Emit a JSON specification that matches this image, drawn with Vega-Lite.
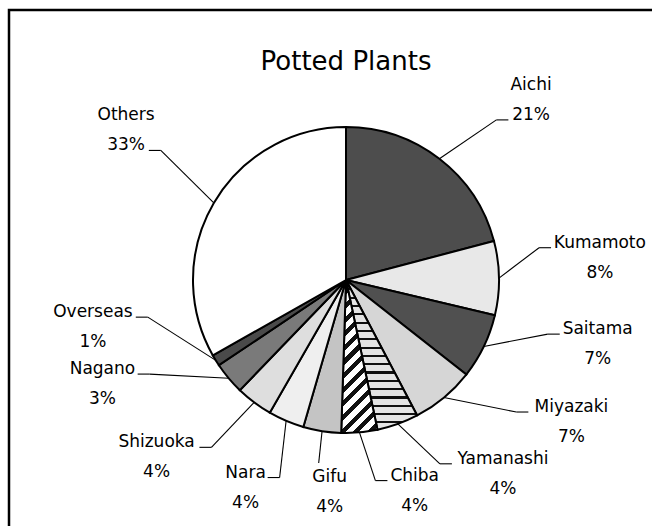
{
  "$schema": "https://vega.github.io/schema/vega-lite/v6.json",
  "width": 674,
  "height": 540,
  "padding": {"left": 9, "top": 10, "right": 0, "bottom": 0},
  "background": "white",
  "title": {"text": "Potted Plants", "font": "DejaVu Sans", "fontSize": 26, "fontWeight": "normal", "color": "#000", "offset": -65},
  "config": {"view": {"stroke": "#000", "strokeWidth": 2.5}},
  "data": {"values": [
    {"name": "Aichi", "value": 20.9},
    {"name": "Kumamoto", "value": 7.8},
    {"name": "Saitama", "value": 6.9},
    {"name": "Miyazaki", "value": 6.7},
    {"name": "Yamanashi", "value": 4.4},
    {"name": "Chiba", "value": 3.8},
    {"name": "Gifu", "value": 4.0},
    {"name": "Nara", "value": 3.8},
    {"name": "Shizuoka", "value": 3.9},
    {"name": "Nagano", "value": 3.4},
    {"name": "Overseas", "value": 1.2},
    {"name": "Others", "value": 33.2}
  ]},
  "transform": [
    {"window": [{"op": "sum", "field": "value", "as": "cum"}], "frame": [null, 0]},
    {"calculate": "datum.cum - datum.value", "as": "start"},
    {"calculate": "(datum.cum - datum.value / 2) * 3.6", "as": "m"},
    {"calculate": "datum.m < 30 ? datum.m * 40 / 30 : datum.m < 89.3 ? 40 + (datum.m - 30) * 45 / 59.3 : datum.m < 140 ? 85 + (datum.m - 89.3) * 37 / 50.7 : datum.m < 160.2 ? 122 + (datum.m - 140) * 19 / 20.2 : datum.m < 175 ? 141 + (datum.m - 160.2) * 21 / 14.8 : datum.m < 190 ? 162 + (datum.m - 175) * 24 / 15 : datum.m < 240 ? 186 + (datum.m - 190) * 76 / 50 : datum.m < 300 ? 262 + (datum.m - 240) * 42 / 60 : 304 + (datum.m - 300) * 56 / 60", "as": "phi"},
    {"calculate": "datum.phi * PI / 180", "as": "pr"},
    {"calculate": "1 / pow(pow(abs(sin(datum.pr)) / 254, 3) + pow(abs(cos(datum.pr)) / 212, 3), 1 / 3)", "as": "lr"},
    {"calculate": "datum.lr * sin(datum.pr)", "as": "lx"},
    {"calculate": "datum.lr * cos(datum.pr)", "as": "ly"},
    {"calculate": "153 * sin(datum.m * PI / 180)", "as": "sx"},
    {"calculate": "153 * cos(datum.m * PI / 180)", "as": "sy"},
    {"calculate": "format(datum.value, '.0f') + '%'", "as": "pct"},
    {"calculate": "datum.name + '\\n' + datum.pct", "as": "label"},
    {"calculate": "datum.lx >= 0 ? 1 : -1", "as": "side"},
    {"calculate": "10.4 * length(datum.name) + 6 * (length(datum.name) - length(replace(datum.name, /[mM]/g, ''))) - 5.5 * (length(datum.name) - length(replace(datum.name, /[iltfr]/g, '')))", "as": "nameW"},
    {"calculate": "datum.ly > 100 ? (10.8 * length(datum.pct) + 5) / 2 + 4 : datum.nameW / 2 + 4", "as": "gap"},
    {"calculate": "abs(datum.lx) < 40 ? datum.lx - 11 : datum.lx - datum.side * datum.gap", "as": "ax2"},
    {"calculate": "abs(datum.lx) < 40 ? datum.ax2 : datum.ax2 - datum.side * 12", "as": "ax1"},
    {"calculate": "abs(datum.lx) < 40 ? datum.ly + 29 : (datum.ly > 100 ? datum.ly - 20 : datum.ly + 10)", "as": "ay"}
  ],
  "layer": [
    {
      "mark": {"type": "arc", "outerRadius": 153, "stroke": "#000", "strokeWidth": 2},
      "encoding": {
        "theta": {"field": "start", "type": "quantitative", "scale": {"domain": [0, 100], "range": [0, 6.283185307179586]}},
        "theta2": {"field": "cum"},
        "fill": {
          "condition": [
            {"test": "datum.name === 'Chiba'", "value": {"gradient": "linear", "x1": 0, "y1": 0, "x2": 0.28, "y2": 1.18, "stops": [
              {"offset": 0, "color": "#111"}, {"offset": 0.0321, "color": "#111"}, {"offset": 0.0321, "color": "#fff"}, {"offset": 0.0714, "color": "#fff"},
              {"offset": 0.0714, "color": "#111"}, {"offset": 0.1036, "color": "#111"}, {"offset": 0.1036, "color": "#fff"}, {"offset": 0.1429, "color": "#fff"},
              {"offset": 0.1429, "color": "#111"}, {"offset": 0.175, "color": "#111"}, {"offset": 0.175, "color": "#fff"}, {"offset": 0.2143, "color": "#fff"},
              {"offset": 0.2143, "color": "#111"}, {"offset": 0.2464, "color": "#111"}, {"offset": 0.2464, "color": "#fff"}, {"offset": 0.2857, "color": "#fff"},
              {"offset": 0.2857, "color": "#111"}, {"offset": 0.3179, "color": "#111"}, {"offset": 0.3179, "color": "#fff"}, {"offset": 0.3571, "color": "#fff"},
              {"offset": 0.3571, "color": "#111"}, {"offset": 0.3893, "color": "#111"}, {"offset": 0.3893, "color": "#fff"}, {"offset": 0.4286, "color": "#fff"},
              {"offset": 0.4286, "color": "#111"}, {"offset": 0.4607, "color": "#111"}, {"offset": 0.4607, "color": "#fff"}, {"offset": 0.5, "color": "#fff"},
              {"offset": 0.5, "color": "#111"}, {"offset": 0.5321, "color": "#111"}, {"offset": 0.5321, "color": "#fff"}, {"offset": 0.5714, "color": "#fff"},
              {"offset": 0.5714, "color": "#111"}, {"offset": 0.6036, "color": "#111"}, {"offset": 0.6036, "color": "#fff"}, {"offset": 0.6429, "color": "#fff"},
              {"offset": 0.6429, "color": "#111"}, {"offset": 0.675, "color": "#111"}, {"offset": 0.675, "color": "#fff"}, {"offset": 0.7143, "color": "#fff"},
              {"offset": 0.7143, "color": "#111"}, {"offset": 0.7464, "color": "#111"}, {"offset": 0.7464, "color": "#fff"}, {"offset": 0.7857, "color": "#fff"},
              {"offset": 0.7857, "color": "#111"}, {"offset": 0.8179, "color": "#111"}, {"offset": 0.8179, "color": "#fff"}, {"offset": 0.8571, "color": "#fff"},
              {"offset": 0.8571, "color": "#111"}, {"offset": 0.8893, "color": "#111"}, {"offset": 0.8893, "color": "#fff"}, {"offset": 0.9286, "color": "#fff"},
              {"offset": 0.9286, "color": "#111"}, {"offset": 0.9607, "color": "#111"}, {"offset": 0.9607, "color": "#fff"}, {"offset": 1, "color": "#fff"}
            ]}},
            {"test": "datum.name === 'Yamanashi'", "value": {"gradient": "linear", "x1": 0, "y1": 0, "x2": 0, "y2": 1, "stops": [
              {"offset": 0, "color": "#111"}, {"offset": 0.014, "color": "#111"}, {"offset": 0.014, "color": "#e4e4e4"}, {"offset": 0.0556, "color": "#e4e4e4"},
              {"offset": 0.0556, "color": "#111"}, {"offset": 0.0696, "color": "#111"}, {"offset": 0.0696, "color": "#e4e4e4"}, {"offset": 0.1111, "color": "#e4e4e4"},
              {"offset": 0.1111, "color": "#111"}, {"offset": 0.1251, "color": "#111"}, {"offset": 0.1251, "color": "#e4e4e4"}, {"offset": 0.1667, "color": "#e4e4e4"},
              {"offset": 0.1667, "color": "#111"}, {"offset": 0.1807, "color": "#111"}, {"offset": 0.1807, "color": "#e4e4e4"}, {"offset": 0.2222, "color": "#e4e4e4"},
              {"offset": 0.2222, "color": "#111"}, {"offset": 0.2362, "color": "#111"}, {"offset": 0.2362, "color": "#e4e4e4"}, {"offset": 0.2778, "color": "#e4e4e4"},
              {"offset": 0.2778, "color": "#111"}, {"offset": 0.2918, "color": "#111"}, {"offset": 0.2918, "color": "#e4e4e4"}, {"offset": 0.3333, "color": "#e4e4e4"},
              {"offset": 0.3333, "color": "#111"}, {"offset": 0.3473, "color": "#111"}, {"offset": 0.3473, "color": "#e4e4e4"}, {"offset": 0.3889, "color": "#e4e4e4"},
              {"offset": 0.3889, "color": "#111"}, {"offset": 0.4029, "color": "#111"}, {"offset": 0.4029, "color": "#e4e4e4"}, {"offset": 0.4444, "color": "#e4e4e4"},
              {"offset": 0.4444, "color": "#111"}, {"offset": 0.4584, "color": "#111"}, {"offset": 0.4584, "color": "#e4e4e4"}, {"offset": 0.5, "color": "#e4e4e4"},
              {"offset": 0.5, "color": "#111"}, {"offset": 0.514, "color": "#111"}, {"offset": 0.514, "color": "#e4e4e4"}, {"offset": 0.5556, "color": "#e4e4e4"},
              {"offset": 0.5556, "color": "#111"}, {"offset": 0.5696, "color": "#111"}, {"offset": 0.5696, "color": "#e4e4e4"}, {"offset": 0.6111, "color": "#e4e4e4"},
              {"offset": 0.6111, "color": "#111"}, {"offset": 0.6251, "color": "#111"}, {"offset": 0.6251, "color": "#e4e4e4"}, {"offset": 0.6667, "color": "#e4e4e4"},
              {"offset": 0.6667, "color": "#111"}, {"offset": 0.6807, "color": "#111"}, {"offset": 0.6807, "color": "#e4e4e4"}, {"offset": 0.7222, "color": "#e4e4e4"},
              {"offset": 0.7222, "color": "#111"}, {"offset": 0.7362, "color": "#111"}, {"offset": 0.7362, "color": "#e4e4e4"}, {"offset": 0.7778, "color": "#e4e4e4"},
              {"offset": 0.7778, "color": "#111"}, {"offset": 0.7918, "color": "#111"}, {"offset": 0.7918, "color": "#e4e4e4"}, {"offset": 0.8333, "color": "#e4e4e4"},
              {"offset": 0.8333, "color": "#111"}, {"offset": 0.8473, "color": "#111"}, {"offset": 0.8473, "color": "#e4e4e4"}, {"offset": 0.8889, "color": "#e4e4e4"},
              {"offset": 0.8889, "color": "#111"}, {"offset": 0.9029, "color": "#111"}, {"offset": 0.9029, "color": "#e4e4e4"}, {"offset": 0.9444, "color": "#e4e4e4"},
              {"offset": 0.9444, "color": "#111"}, {"offset": 0.9584, "color": "#111"}, {"offset": 0.9584, "color": "#e4e4e4"}, {"offset": 1, "color": "#e4e4e4"}
            ]}}
          ],
          "field": "name",
          "type": "nominal",
          "legend": null,
          "scale": {
            "domain": ["Aichi", "Kumamoto", "Saitama", "Miyazaki", "Yamanashi", "Chiba", "Gifu", "Nara", "Shizuoka", "Nagano", "Overseas", "Others"],
            "range": ["#4d4d4d", "#e8e8e8", "#505050", "#d6d6d6", "#c8c8c8", "#8a8a8a", "#c4c4c4", "#efefef", "#dedede", "#7a7a7a", "#4a4a4a", "#ffffff"]
          }
        }
      }
    },
    {
      "mark": {"type": "rule", "stroke": "#000", "strokeWidth": 1.1},
      "encoding": {
        "x": {"field": "sx", "type": "quantitative", "scale": {"domain": [-337, 337], "nice": false, "zero": false}, "axis": null},
        "y": {"field": "sy", "type": "quantitative", "scale": {"domain": [-270, 270], "nice": false, "zero": false}, "axis": null},
        "x2": {"field": "ax1"},
        "y2": {"field": "ay"}
      }
    },
    {
      "mark": {"type": "rule", "stroke": "#000", "strokeWidth": 1.1},
      "encoding": {
        "x": {"field": "ax1", "type": "quantitative", "scale": {"domain": [-337, 337], "nice": false, "zero": false}, "axis": null},
        "y": {"field": "ay", "type": "quantitative", "scale": {"domain": [-270, 270], "nice": false, "zero": false}, "axis": null},
        "x2": {"field": "ax2"},
        "y2": {"field": "ay"}
      }
    },
    {
      "mark": {"type": "text", "font": "DejaVu Sans", "fontSize": 17, "lineHeight": 30, "lineBreak": "\n", "align": "center", "baseline": "middle", "dy": -15, "color": "#000"},
      "encoding": {
        "x": {"field": "lx", "type": "quantitative", "scale": {"domain": [-337, 337], "nice": false, "zero": false}, "axis": null},
        "y": {"field": "ly", "type": "quantitative", "scale": {"domain": [-270, 270], "nice": false, "zero": false}, "axis": null},
        "text": {"field": "label"}
      }
    }
  ]
}
